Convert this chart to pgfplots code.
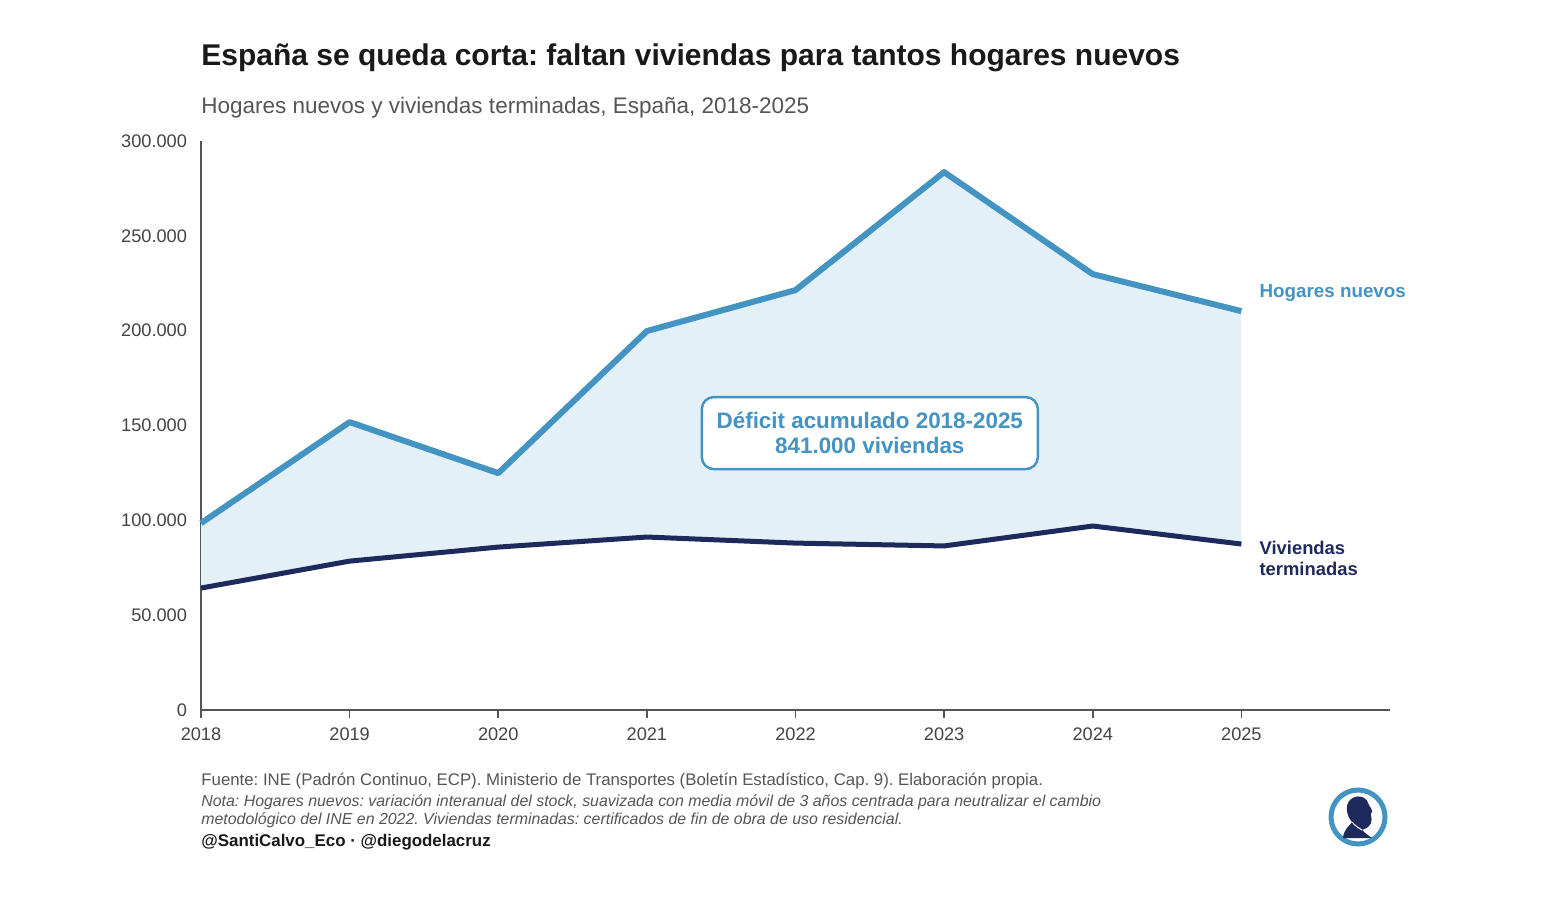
\documentclass[border=0pt]{standalone}
\usepackage{pgfplots}
\usepackage{pgfplotstable}
\pgfplotsset{compat=1.18}
\usepgfplotslibrary{fillbetween}
\usepackage{fontspec}
\setmainfont{Liberation Sans}
\definecolor{hblue}{HTML}{4393C3}
\definecolor{navy}{HTML}{1F2A5C}
\definecolor{fillb}{HTML}{E3F0F8}
\definecolor{txtgray}{HTML}{555555}
\definecolor{tickgray}{HTML}{444444}
\definecolor{axgray}{HTML}{555555}
\pgfplotstableread{
year hogares
2018 98500
2019 151800
2020 124900
2021 199800
2022 221400
2023 283600
2024 229800
2025 210300
}\hogares
\pgfplotstableread{
year viviendas
2018 64300
2019 78500
2020 85900
2021 91200
2022 88000
2023 86500
2024 97000
2025 87500
}\viviendas
\begin{document}
\frenchspacing
\begin{tikzpicture}
\begin{axis}[
  at={(100.5pt,-355pt)}, anchor=south west,
  scale only axis, width=594.5pt, height=284.5pt,
  xmin=2018, xmax=2026, ymin=0, ymax=300000,
  axis x line*=bottom, axis y line*=left,
  axis line style={draw=axgray, line width=0.8pt},
  scaled y ticks=false, scaled x ticks=false,
  xtick={2018,2019,2020,2021,2022,2023,2024,2025},
  xticklabels={2018,2019,2020,2021,2022,2023,2024,2025},
  ytick={0,50000,100000,150000,200000,250000,300000},
  yticklabels={0,50.000,100.000,150.000,200.000,250.000,300.000},
  tick align=outside,
  xtick style={draw=axgray, line width=0.8pt},
  major tick length=4pt,
  ytick style={draw=none},
  tick label style={font=\fontsize{9.1}{11}\selectfont, text=tickgray},
  yticklabel style={xshift=0.5pt},
  xticklabel style={yshift=-1.5pt},
  clip=false,
]
\addplot[draw=none, name path=H, forget plot] table[x=year,y=hogares] {\hogares};
\addplot[draw=none, name path=V, forget plot] table[x=year,y=viviendas] {\viviendas};
\addplot[fillb, draw=none] fill between[of=H and V];
\addplot[hblue, line width=3pt, line join=round] table[x=year,y=hogares] {\hogares};
\addplot[navy, line width=2.5pt, line join=round] table[x=year,y=viviendas] {\viviendas};
\node[anchor=west, inner sep=0pt, text=hblue, font=\bfseries\fontsize{9.4}{11}\selectfont] at (axis cs:2025.12,219900) {Hogares nuevos};
\node[anchor=west, text=navy, align=left, font=\bfseries\fontsize{9.2}{10.5}\selectfont, inner sep=0pt] at (axis cs:2025.12,79800) {Viviendas\\terminadas};
\node[draw=hblue, line width=1.2pt, fill=white, rounded corners=6pt, minimum width=168pt, minimum height=36pt, align=center, text=hblue, font=\bfseries\fontsize{11.2}{12.3}\selectfont] at (axis cs:2022.5,146000) {Déficit acumulado 2018-2025\\841.000 viviendas};
\end{axis}
\begin{scope}[x=0.5pt,y=-0.5pt]
\path (0,0) rectangle (1558,920);
\node[anchor=base west, inner sep=0pt, font=\bfseries\fontsize{15}{17}\selectfont, text=black!90] at (201,66) {España se queda corta: faltan viviendas para tantos hogares nuevos};
\node[anchor=base west, inner sep=0pt, font=\fontsize{11.25}{13}\selectfont, text=txtgray] at (201,113) {Hogares nuevos y viviendas terminadas, España, 2018-2025};
\node[anchor=base west, inner sep=0pt, font=\fontsize{8.4}{10}\selectfont, text=txtgray] at (201,785) {Fuente: INE (Padrón Continuo, ECP). Ministerio de Transportes (Boletín Estadístico, Cap. 9). Elaboración propia.};
\node[anchor=base west, inner sep=0pt, font=\itshape\fontsize{7.95}{9}\selectfont, text=txtgray] at (201,806) {Nota: Hogares nuevos: variación interanual del stock, suavizada con media móvil de 3 años centrada para neutralizar el cambio};
\node[anchor=base west, inner sep=0pt, font=\itshape\fontsize{7.95}{9}\selectfont, text=txtgray] at (201,824) {metodológico del INE en 2022. Viviendas terminadas: certificados de fin de obra de uso residencial.};
\node[anchor=base west, inner sep=0pt, font=\bfseries\fontsize{8.45}{10}\selectfont, text=black!90] at (201,846) {@SantiCalvo\_Eco · @diegodelacruz};
% logo
\draw[hblue, line width=2.5pt, fill=white] (1358,817) circle[radius=27];
\fill[navy] (1343,838) .. controls (1344,828) and (1350,826) .. (1352,822)
  .. controls (1346,815) and (1345,805) .. (1350,800)
  .. controls (1356,794) and (1366,796) .. (1368,803)
  .. controls (1369,806) and (1373,810) .. (1372,812)
  .. controls (1369,813) and (1373,818) .. (1371,823)
  .. controls (1369,828) and (1364,829) .. (1362,830)
  .. controls (1365,833) and (1369,836) .. (1372,838) -- cycle;
\draw[white, line width=0.5pt] (1352,822) .. controls (1355,826) and (1359,828) .. (1362,830);
\end{scope}
\end{tikzpicture}
\end{document}
